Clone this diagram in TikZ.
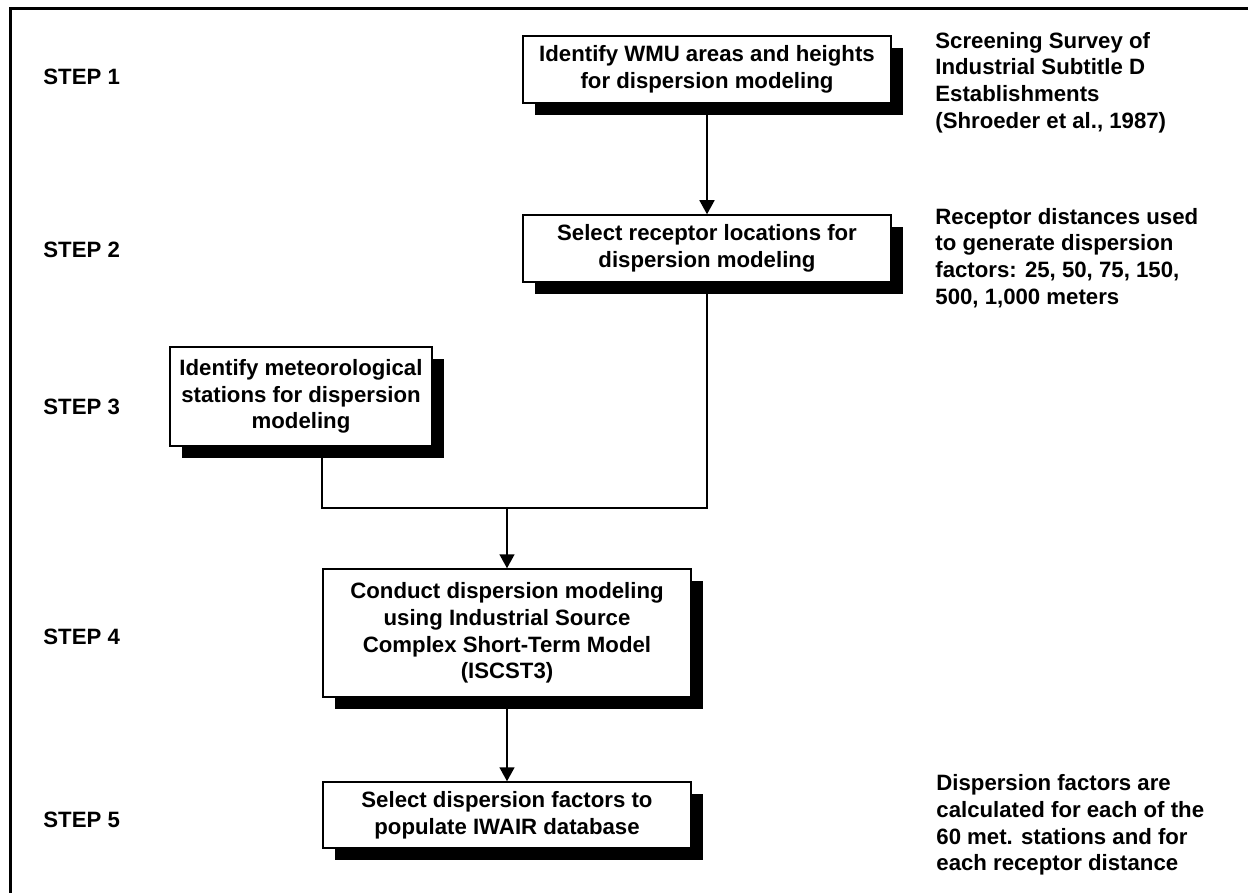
\documentclass[tikz,border=0pt]{standalone}
\usepackage{fontspec}
\setmainfont{Liberation Sans}
\usetikzlibrary{%
  arrows.meta,%
  shadows%
}
\newcommand\flowfont{\fontsize{11.1}{13.4}\selectfont\bfseries}

\tikzset{
  stepbox/.style={draw, line width=0.75pt, fill=white, align=center,
    inner sep=0pt, font=\flowfont,
    drop shadow={shadow xshift=6pt, shadow yshift=-6pt, opacity=1, fill=black}},
  steplabel/.style={anchor=west, inner sep=0pt, font=\flowfont},
  sidenote/.style={anchor=west, inner sep=0pt, align=left, font=\flowfont},
  wire/.style={line width=0.8pt},
  flow/.style={wire, -{Triangle[length=7pt,width=7.5pt]}}
}

\begin{document}
\begin{tikzpicture}[x=0.5pt,y=-0.5pt]

  \useasboundingbox (0,0) rectangle (1248,893);

  %% frame (top and left only)
  \draw[line width=1.5pt] (10.5,893) -- (10.5,8.7) -- (1248,8.7);

  %%%%%%%%%%%%%%%%
  % step labels
  \node[steplabel] (s1) at (43,77)  {STEP 1};
  \node[steplabel] (s2) at (43,250) {STEP 2};
  \node[steplabel] (s3) at (43,407) {STEP 3};
  \node[steplabel] (s4) at (43,637) {STEP 4};
  \node[steplabel] (s5) at (43,820) {STEP 5};

  %%%%%%%%%%%%%%%%
  % boxes
  \node[stepbox, minimum width=184pt, minimum height=33.5pt] (wmu) at (707,69.5)
    {Identify WMU areas and heights\\for dispersion modeling};
  \node[stepbox, minimum width=184pt, minimum height=33.5pt] (receptor) at (707,248.5)
    {Select receptor locations for\\dispersion modeling};
  \node[stepbox, minimum width=131pt, minimum height=49.5pt] (met) at (301,396.5)
    {Identify meteorological\\stations for dispersion\\modeling};
  \node[stepbox, minimum width=184pt, minimum height=64pt] (isc) at (507,633)
    {Conduct dispersion modeling\\using Industrial Source\\Complex Short-Term Model\\(ISCST3)};
  \node[stepbox, minimum width=184pt, minimum height=33pt] (iwair) at (507,815)
    {Select dispersion factors to\\populate IWAIR database};

  %%%%%%%%%%%%%%%%
  % notes on the right
  \node[sidenote] (survey) at (935,82.5)
    {Screening Survey of\\Industrial Subtitle D\\Establishments\\(Shroeder et al., 1987)};
  \node[sidenote] (dist) at (935,258)
    {Receptor distances used\\to generate dispersion\\factors: 25, 50, 75, 150,\\500, 1,000 meters};
  \node[sidenote] (factors) at (936,825)
    {Dispersion factors are\\calculated for each of the\\60 met. stations and for\\each receptor distance};

  %%%%%%%%%%%%%%%%
  %% connectors
  \coordinate (merge) at (507,508);

  \draw[flow] (wmu) -- (receptor);
  \draw[wire] (met.south -| isc.west) |- (merge) -| (receptor.south);
  \draw[flow] (merge) -- (isc);
  \draw[flow] (isc) -- (iwair);

\end{tikzpicture}
\end{document}
